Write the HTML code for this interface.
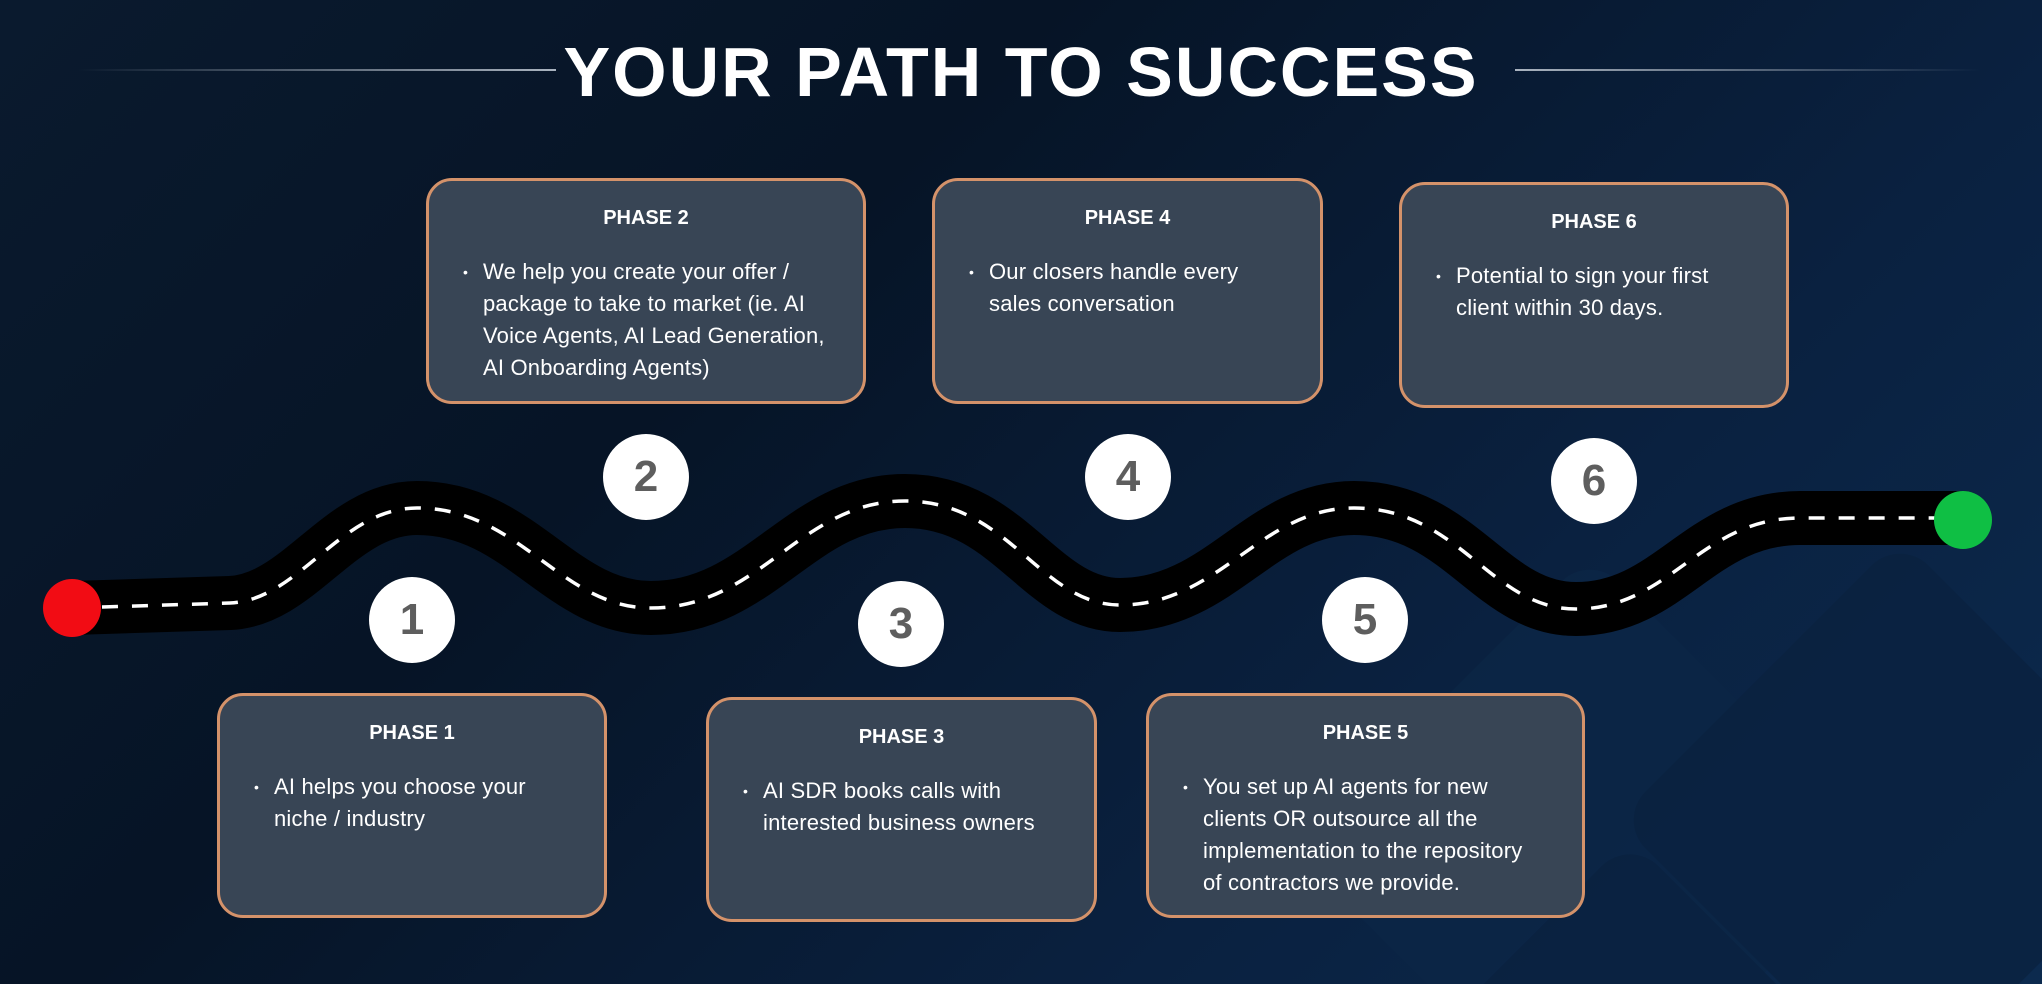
<!DOCTYPE html>
<html><head><meta charset="utf-8"><style>
*{margin:0;padding:0;box-sizing:border-box}
html,body{overflow:hidden;width:2042px;height:984px}
body{position:relative;font-family:"Liberation Sans",sans-serif;
background:linear-gradient(135deg,#0a1a2e 0%,#061426 35%,#0a2140 70%,#0c2a4e 100%);}
.t{position:absolute;left:0;width:2042px;top:30px;text-align:center;color:#fff;font-size:70px;font-weight:bold;letter-spacing:2px;line-height:84px}
.ln{position:absolute;height:2px;top:69px}
.box{position:absolute;background:#384555;border:3px solid #d4926a;border-radius:26px;color:#fff;overflow:hidden}
.box h3{text-align:center;font-size:20px;font-weight:bold;margin-top:26px}
.box ul{list-style:none;margin:26px 40px 0 34px;font-size:22px;line-height:32px;letter-spacing:0.2px}
.box li{position:relative;padding-left:20px}
.box li:before{content:"•";position:absolute;left:0;font-size:14px}
.c{position:absolute;width:86px;height:86px;border-radius:50%;background:#fff;color:#5e5e5e;font-size:44px;font-weight:bold;text-align:center;line-height:86px}
</style></head><body>
<svg width="2042" height="984" viewBox="0 0 2042 984" style="position:absolute;left:0;top:0;overflow:hidden">
<g fill="#0c2646" opacity="0.8">
<rect x="1380" y="640" width="420" height="420" rx="40" transform="rotate(45 1590 850)"/>
<rect x="1700" y="620" width="400" height="400" rx="40" transform="rotate(45 1900 820)" fill="#0a2240"/>
<rect x="1480" y="900" width="300" height="300" rx="40" transform="rotate(45 1630 1050)" fill="#0a2240"/>
</g>
<path d="M72,608 L230,603 C300,600 340,508 417,508 C520,508 560,608 651,608 C760,608 800,501 905,501 C1010,501 1040,605 1120,605 C1220,605 1260,508 1354,508 C1460,508 1490,609 1576,609 C1670,609 1700,518 1800,518 L1963,518" fill="none" stroke="#000" stroke-width="54" stroke-linecap="round"/>
<path d="M72,608 L230,603 C300,600 340,508 417,508 C520,508 560,608 651,608 C760,608 800,501 905,501 C1010,501 1040,605 1120,605 C1220,605 1260,508 1354,508 C1460,508 1490,609 1576,609 C1670,609 1700,518 1800,518 L1963,518" fill="none" stroke="#fff" stroke-width="3.5" stroke-dasharray="16 14"/>
<circle cx="72" cy="608" r="29" fill="#f20c14"/>
<circle cx="1963" cy="520" r="29" fill="#0fbf44"/>
</svg>
<div class="ln" style="left:78px;width:478px;background:linear-gradient(90deg,rgba(255,255,255,0),#aab4c0)"></div>
<div class="ln" style="left:1515px;width:465px;background:linear-gradient(90deg,#aab4c0,rgba(255,255,255,0))"></div>
<div class="t">YOUR PATH TO SUCCESS</div>

<div class="box" style="left:217px;top:693px;width:390px;height:225px"><h3>PHASE 1</h3><ul><li>AI helps you choose your niche / industry</li></ul></div>
<div class="box" style="left:426px;top:178px;width:440px;height:226px"><h3>PHASE 2</h3><ul style="margin-right:20px"><li>We help you create your offer / package to take to market (ie. AI Voice Agents, AI Lead Generation, AI Onboarding Agents)</li></ul></div>
<div class="box" style="left:706px;top:697px;width:391px;height:225px"><h3>PHASE 3</h3><ul><li>AI SDR books calls with interested business owners</li></ul></div>
<div class="box" style="left:932px;top:178px;width:391px;height:226px"><h3>PHASE 4</h3><ul><li>Our closers handle every sales conversation</li></ul></div>
<div class="box" style="left:1146px;top:693px;width:439px;height:225px"><h3>PHASE 5</h3><ul style="margin-right:50px"><li>You set up AI agents for new clients OR outsource all the implementation to the repository of contractors we provide.</li></ul></div>
<div class="box" style="left:1399px;top:182px;width:390px;height:226px"><h3>PHASE 6</h3><ul><li>Potential to sign your first client within 30 days.</li></ul></div>

<div class="c" style="left:369px;top:577px">1</div>
<div class="c" style="left:603px;top:434px">2</div>
<div class="c" style="left:858px;top:581px">3</div>
<div class="c" style="left:1085px;top:434px">4</div>
<div class="c" style="left:1322px;top:577px">5</div>
<div class="c" style="left:1551px;top:438px">6</div>
</body></html>
